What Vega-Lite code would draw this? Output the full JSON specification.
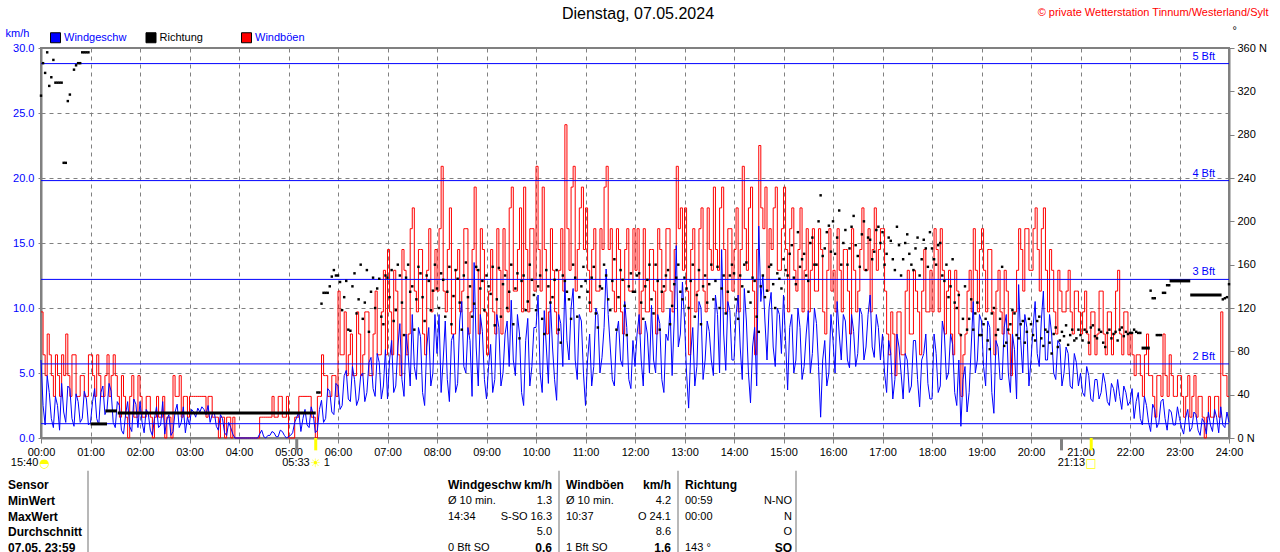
{
  "$schema": "https://vega.github.io/schema/vega-lite/v6.json",
  "autosize": {"type": "none"},
  "width": 1188,
  "height": 390,
  "padding": {"left": 41, "top": 48, "right": 51, "bottom": 114},
  "background": "white",
  "title": {"text": "Dienstag, 07.05.2024", "fontSize": 16, "fontWeight": "normal", "color": "black", "anchor": "middle", "frame": "group", "offset": -16, "dx": 3},
  "config": {
    "font": "Liberation Sans",
    "view": {"stroke": "#808080", "strokeWidth": 2},
    "axis": {"labelFont": "Liberation Sans", "labelFontSize": 11, "titleFont": "Liberation Sans", "domainColor": "#808080", "domainWidth": 2, "tickColor": "#808080", "gridColor": "#808080", "gridDash": [4, 4], "gridWidth": 1, "gridOpacity": 1}
  },
  "datasets": {
    "w": [
      {"t":0,"s":6.0,"g":9.7,"d":316},{"t":5,"s":1.0,"g":4.8,"d":337},{"t":10,"s":3.5,"g":6.4,"d":325},{"t":15,"s":0.8,"g":3.2,"d":349},{"t":20,"s":2.5,"g":4.8,"d":328},{"t":25,"s":4.2,"g":6.4,"d":328},{"t":30,"s":1.2,"g":8.0,"d":254},{"t":35,"s":3.8,"g":3.2,"d":317},{"t":40,"s":0.9,"g":6.4,"d":340},{"t":45,"s":2.8,"g":3.2,"d":346},{"t":50,"s":1.5,"g":4.8,"d":356},{"t":55,"s":3.0,"g":3.2,"d":356},
      {"t":60,"s":1.2,"g":6.4},{"t":65,"s":3.8,"g":3.2},{"t":70,"s":1.0,"g":4.8},{"t":75,"s":4.0,"g":3.2},{"t":80,"s":2.2,"g":6.4},{"t":85,"s":3.6,"g":4.8},{"t":90,"s":0.8,"g":4.8},{"t":95,"s":2.5,"g":1.6},{"t":100,"s":0.3,"g":3.2},{"t":105,"s":2.8,"g":0},{"t":110,"s":0.5,"g":4.8},{"t":115,"s":2.6,"g":1.6},
      {"t":120,"s":2.8,"g":3.2},{"t":125,"s":0.4,"g":1.6},{"t":130,"s":1.9,"g":3.2},{"t":135,"s":0.2,"g":0},{"t":140,"s":2.4,"g":3.2},{"t":145,"s":1.0,"g":1.6},{"t":150,"s":0.3,"g":0},{"t":155,"s":1.8,"g":1.6},{"t":160,"s":0.5,"g":4.8},{"t":165,"s":2.6,"g":3.2},{"t":170,"s":1.2,"g":1.6},{"t":175,"s":0.4,"g":3.2},
      {"t":180,"s":1.0,"g":3.2},{"t":185,"s":2.0,"g":3.2},{"t":190,"s":2.3,"g":3.2},{"t":195,"s":2.4,"g":3.2},{"t":200,"s":1.8,"g":1.6},{"t":205,"s":1.2,"g":3.2},{"t":210,"s":2.0,"g":1.6},{"t":215,"s":0.6,"g":0},{"t":220,"s":1.5,"g":1.6},{"t":225,"s":0.2,"g":1.6},{"t":230,"s":0.8,"g":0},{"t":235,"s":0,"g":0},
      {"t":240,"s":0,"g":0},{"t":245,"s":0,"g":0},{"t":250,"s":0,"g":0},{"t":255,"s":0,"g":0},{"t":260,"s":0,"g":0},{"t":265,"s":0.3,"g":1.6},{"t":270,"s":0.1,"g":1.6},{"t":275,"s":0.2,"g":1.6},{"t":280,"s":0.5,"g":3.2},{"t":285,"s":0.1,"g":1.6},{"t":290,"s":0.6,"g":3.2},{"t":295,"s":0.2,"g":1.6},
      {"t":300,"s":0.1,"g":0},{"t":305,"s":0.4,"g":0},{"t":310,"s":1.6,"g":1.6},{"t":315,"s":0.5,"g":3.2},{"t":320,"s":2.2,"g":3.2},{"t":325,"s":0.8,"g":3.2},{"t":330,"s":1.8,"g":1.6},{"t":335,"s":0.6,"g":3.2,"d":42},{"t":340,"s":2.9,"g":6.4,"d":124},{"t":345,"s":1.5,"g":4.8,"d":134},{"t":350,"s":3.6,"g":3.2,"d":140},{"t":355,"s":1.8,"g":4.8,"d":155},
      {"t":360,"s":4.0,"g":11.3,"d":150},{"t":365,"s":2.5,"g":6.4,"d":118},{"t":370,"s":5.2,"g":4.8,"d":145},{"t":375,"s":2.8,"g":8.0,"d":99},{"t":380,"s":4.5,"g":4.8,"d":152},{"t":385,"s":3.0,"g":8.0,"d":128},{"t":390,"s":5.0,"g":6.4,"d":110},{"t":395,"s":3.5,"g":9.7,"d":155},{"t":400,"s":6.2,"g":4.8,"d":135},{"t":405,"s":3.2,"g":11.3,"d":120},{"t":410,"s":5.8,"g":6.4,"d":147},{"t":415,"s":4.0,"g":12.9,"d":105},
      {"t":420,"s":3.0,"g":14.5,"d":148},{"t":425,"s":7.5,"g":6.4,"d":155},{"t":430,"s":4.0,"g":11.3,"d":118},{"t":435,"s":8.8,"g":4.8,"d":150},{"t":440,"s":3.2,"g":12.9,"d":95},{"t":445,"s":6.5,"g":8.0,"d":160},{"t":450,"s":9.5,"g":17.7,"d":140},{"t":455,"s":4.5,"g":9.7,"d":128},{"t":460,"s":7.8,"g":14.5,"d":152},{"t":465,"s":2.5,"g":6.4,"d":108},{"t":470,"s":8.5,"g":16.1,"d":145},{"t":475,"s":5.0,"g":11.3,"d":136},
      {"t":480,"s":6.5,"g":11.3,"d":138},{"t":485,"s":3.5,"g":20.9,"d":152},{"t":490,"s":9.0,"g":9.7,"d":112},{"t":495,"s":2.8,"g":17.7,"d":158},{"t":500,"s":8.0,"g":8.0,"d":131},{"t":505,"s":4.2,"g":14.5,"d":147},{"t":510,"s":10.5,"g":11.3,"d":100},{"t":515,"s":5.0,"g":16.1,"d":162},{"t":520,"s":7.5,"g":9.7,"d":140},{"t":525,"s":13.5,"g":19.3,"d":124},{"t":530,"s":4.0,"g":8.0,"d":155},{"t":535,"s":8.2,"g":14.5,"d":145},
      {"t":540,"s":3.0,"g":6.4,"d":150},{"t":545,"s":7.2,"g":14.5,"d":133},{"t":550,"s":4.5,"g":8.0,"d":104},{"t":555,"s":8.5,"g":12.9,"d":157},{"t":560,"s":5.0,"g":16.1,"d":142},{"t":565,"s":9.0,"g":9.7,"d":120},{"t":570,"s":10.6,"g":19.3,"d":160},{"t":575,"s":4.8,"g":11.3,"d":138},{"t":580,"s":8.0,"g":17.7,"d":92},{"t":585,"s":2.5,"g":19.3,"d":150},{"t":590,"s":9.2,"g":9.7,"d":126},{"t":595,"s":5.5,"g":16.1,"d":146},
      {"t":600,"s":8.5,"g":20.9,"d":118},{"t":605,"s":5.0,"g":11.3,"d":150},{"t":610,"s":9.8,"g":14.5,"d":96},{"t":615,"s":4.2,"g":9.7,"d":140},{"t":620,"s":7.0,"g":12.9,"d":130},{"t":625,"s":2.9,"g":8.0,"d":155},{"t":630,"s":8.8,"g":16.1,"d":88},{"t":635,"s":12.0,"g":24.1,"d":145},{"t":640,"s":6.0,"g":12.9,"d":128},{"t":645,"s":11.5,"g":20.9,"d":160},{"t":650,"s":4.5,"g":14.5,"d":112},{"t":655,"s":9.0,"g":19.3,"d":140},
      {"t":660,"s":2.5,"g":17.7,"d":145},{"t":665,"s":8.0,"g":9.7,"d":125},{"t":670,"s":5.5,"g":16.1,"d":158},{"t":675,"s":9.5,"g":11.3,"d":102},{"t":680,"s":6.2,"g":14.5,"d":138},{"t":685,"s":13.0,"g":20.9,"d":150},{"t":690,"s":7.0,"g":16.1,"d":118},{"t":695,"s":4.0,"g":9.7,"d":165},{"t":700,"s":9.0,"g":14.5,"d":130},{"t":705,"s":5.5,"g":8.0,"d":146},{"t":710,"s":8.5,"g":16.1,"d":95},{"t":715,"s":3.8,"g":11.3,"d":152},
      {"t":720,"s":5.5,"g":12.9,"d":135},{"t":725,"s":9.5,"g":8.0,"d":152},{"t":730,"s":4.0,"g":16.1,"d":110},{"t":735,"s":8.0,"g":9.7,"d":146},{"t":740,"s":10.2,"g":14.5,"d":128},{"t":745,"s":5.0,"g":8.0,"d":160},{"t":750,"s":8.8,"g":14.5,"d":100},{"t":755,"s":3.5,"g":11.3,"d":140},{"t":760,"s":7.5,"g":16.1,"d":155},{"t":765,"s":4.8,"g":9.7,"d":122},{"t":770,"s":14.8,"g":20.9,"d":148},{"t":775,"s":8.0,"g":17.7,"d":135},
      {"t":780,"s":9.0,"g":17.7,"d":148},{"t":785,"s":2.3,"g":6.4,"d":120},{"t":790,"s":8.5,"g":16.1,"d":160},{"t":795,"s":5.5,"g":11.3,"d":132},{"t":800,"s":10.0,"g":17.7,"d":105},{"t":805,"s":6.0,"g":9.7,"d":150},{"t":810,"s":8.2,"g":14.5,"d":142},{"t":815,"s":4.8,"g":19.3,"d":128},{"t":820,"s":9.5,"g":12.9,"d":158},{"t":825,"s":14.5,"g":19.3,"d":138},{"t":830,"s":5.2,"g":9.7,"d":115},{"t":835,"s":9.8,"g":16.1,"d":150},
      {"t":840,"s":6.0,"g":14.5,"d":152},{"t":845,"s":11.0,"g":9.7,"d":110},{"t":850,"s":4.5,"g":20.9,"d":140},{"t":855,"s":9.0,"g":12.9,"d":162},{"t":860,"s":2.7,"g":19.3,"d":125},{"t":865,"s":8.5,"g":6.4,"d":145},{"t":870,"s":16.3,"g":22.5,"d":98},{"t":875,"s":12.5,"g":16.1,"d":150},{"t":880,"s":6.0,"g":11.3,"d":136},{"t":885,"s":11.2,"g":14.5,"d":160},{"t":890,"s":5.5,"g":19.3,"d":120},{"t":895,"s":9.5,"g":12.9,"d":147},
      {"t":900,"s":11.0,"g":19.3,"d":165},{"t":905,"s":3.7,"g":9.7,"d":150},{"t":910,"s":9.5,"g":17.7,"d":178},{"t":915,"s":6.0,"g":11.3,"d":142},{"t":920,"s":8.5,"g":17.7,"d":158},{"t":925,"s":5.5,"g":12.9,"d":170},{"t":930,"s":9.8,"g":9.7,"d":145},{"t":935,"s":6.5,"g":16.1,"d":185},{"t":940,"s":8.8,"g":11.3,"d":160},{"t":945,"s":1.6,"g":14.5,"d":224},{"t":950,"s":7.5,"g":8.0,"d":175},{"t":955,"s":5.0,"g":16.1,"d":196},
      {"t":960,"s":7.5,"g":12.9,"d":200},{"t":965,"s":10.5,"g":16.1,"d":185},{"t":970,"s":6.0,"g":9.7,"d":160},{"t":975,"s":9.0,"g":14.5,"d":192},{"t":980,"s":5.4,"g":8.0,"d":175},{"t":985,"s":8.2,"g":12.9,"d":205},{"t":990,"s":6.5,"g":11.3,"d":168},{"t":995,"s":9.5,"g":17.7,"d":188},{"t":1000,"s":7.0,"g":12.9,"d":155},{"t":1005,"s":11.0,"g":9.7,"d":183},{"t":1010,"s":6.2,"g":17.7,"d":172},{"t":1015,"s":8.5,"g":14.5,"d":195},
      {"t":1020,"s":8.0,"g":16.1,"d":190},{"t":1025,"s":3.5,"g":8.0,"d":170},{"t":1030,"s":6.5,"g":9.7,"d":182},{"t":1035,"s":4.5,"g":4.8,"d":155},{"t":1040,"s":7.0,"g":9.7,"d":178},{"t":1045,"s":3.0,"g":6.4,"d":165},{"t":1050,"s":6.0,"g":12.9,"d":188},{"t":1055,"s":4.0,"g":8.0,"d":160},{"t":1060,"s":7.5,"g":11.3,"d":175},{"t":1065,"s":2.4,"g":6.4,"d":150},{"t":1070,"s":6.5,"g":14.5,"d":183},{"t":1075,"s":4.2,"g":9.7,"d":158},
      {"t":1080,"s":3.0,"g":9.7,"d":175},{"t":1085,"s":6.5,"g":14.5,"d":160},{"t":1090,"s":4.0,"g":16.1,"d":180},{"t":1095,"s":8.0,"g":8.0,"d":145},{"t":1100,"s":5.0,"g":12.9,"d":130},{"t":1105,"s":7.2,"g":6.4,"d":165},{"t":1110,"s":2.5,"g":11.3,"d":120},{"t":1115,"s":0.9,"g":3.2,"d":95},{"t":1120,"s":5.5,"g":8.0,"d":140},{"t":1125,"s":3.5,"g":12.9,"d":110},{"t":1130,"s":10.5,"g":16.1,"d":100},{"t":1135,"s":6.0,"g":9.7,"d":125},
      {"t":1140,"s":9.0,"g":16.1,"d":95},{"t":1145,"s":4.0,"g":9.7,"d":110},{"t":1150,"s":8.5,"g":14.5,"d":82},{"t":1155,"s":1.9,"g":6.4,"d":120},{"t":1160,"s":7.0,"g":12.9,"d":100},{"t":1165,"s":4.5,"g":8.0,"d":158},{"t":1170,"s":9.5,"g":11.3,"d":88},{"t":1175,"s":3.5,"g":4.8,"d":105},{"t":1180,"s":6.8,"g":9.7,"d":115},{"t":1185,"s":11.8,"g":16.1,"d":92},{"t":1190,"s":5.0,"g":11.3,"d":108},{"t":1195,"s":8.5,"g":16.1,"d":98},
      {"t":1200,"s":6.0,"g":12.9,"d":105},{"t":1205,"s":10.5,"g":17.7,"d":90},{"t":1210,"s":5.5,"g":11.3,"d":112},{"t":1215,"s":11.3,"g":17.7,"d":85},{"t":1220,"s":6.0,"g":9.7,"d":98},{"t":1225,"s":8.0,"g":12.9,"d":78},{"t":1230,"s":4.5,"g":8.0,"d":102},{"t":1235,"s":7.2,"g":11.3,"d":90},{"t":1240,"s":5.0,"g":9.7,"d":94},{"t":1245,"s":6.5,"g":12.9,"d":86},{"t":1250,"s":3.8,"g":8.0,"d":100},{"t":1255,"s":5.8,"g":11.3,"d":92},
      {"t":1260,"s":5.0,"g":8.0,"d":95},{"t":1265,"s":3.2,"g":11.3,"d":100},{"t":1270,"s":4.8,"g":6.4,"d":88},{"t":1275,"s":2.8,"g":9.7,"d":104},{"t":1280,"s":4.5,"g":8.0,"d":92},{"t":1285,"s":3.5,"g":11.3,"d":98},{"t":1290,"s":4.2,"g":6.4,"d":84},{"t":1295,"s":2.5,"g":9.7,"d":100},{"t":1300,"s":3.8,"g":8.0,"d":96},{"t":1305,"s":4.5,"g":12.9,"d":90},{"t":1310,"s":2.2,"g":6.4,"d":102},{"t":1315,"s":3.5,"g":9.7,"d":98},
      {"t":1320,"s":2.8,"g":8.0,"d":97},{"t":1325,"s":1.5,"g":4.8,"d":100},{"t":1330,"s":3.5,"g":6.4,"d":97},{"t":1335,"s":1.0,"g":3.2},{"t":1340,"s":2.5,"g":8.0},{"t":1345,"s":0.5,"g":4.8,"d":136},{"t":1350,"s":2.2,"g":1.6,"d":129},{"t":1355,"s":1.2,"g":4.8,"d":95},{"t":1360,"s":3.0,"g":8.0,"d":134},{"t":1365,"s":0.6,"g":3.2,"d":141},{"t":1370,"s":2.0,"g":4.8},{"t":1375,"s":1.0,"g":3.2},
      {"t":1380,"s":1.5,"g":4.8},{"t":1385,"s":0.3,"g":1.6},{"t":1390,"s":2.2,"g":4.8},{"t":1395,"s":0.8,"g":3.2},{"t":1400,"s":1.8,"g":1.6},{"t":1405,"s":0.2,"g":3.2},{"t":1410,"s":1.2,"g":0},{"t":1415,"s":2.0,"g":3.2},{"t":1420,"s":0.5,"g":1.6},{"t":1425,"s":1.6,"g":3.2},{"t":1430,"s":2.4,"g":9.7},{"t":1435,"s":0.8,"g":4.8,"d":129},{"t":1440,"s":1.2,"g":3.2,"d":142},
      {"t":2.5,"s":2.5,"g":6.4,"d":346},{"t":7.5,"s":4.8,"g":8.0,"d":356},{"t":12.5,"s":1.5,"g":4.8,"d":333},{"t":17.5,"s":3.2,"g":6.4,"d":328},{"t":22.5,"s":0.6,"g":3.2,"d":328},{"t":27.5,"s":2.0,"g":4.8,"d":254},{"t":32.5,"s":4.0,"g":4.8,"d":311},{"t":37.5,"s":1.5,"g":6.4},{"t":42.5,"s":3.4,"g":3.2,"d":344},{"t":47.5,"s":1.2,"g":4.8,"d":346},{"t":52.5,"s":3.6,"g":3.2,"d":356},{"t":57.5,"s":1.0,"g":6.4,"d":356},
      {"t":62.5,"s":2.8,"g":4.8},{"t":67.5,"s":1.5,"g":6.4},{"t":72.5,"s":3.5,"g":3.2},{"t":77.5,"s":1.8,"g":4.8},{"t":82.5,"s":4.2,"g":3.2},{"t":87.5,"s":1.2,"g":6.4},{"t":92.5,"s":2.8,"g":3.2},{"t":97.5,"s":0.6,"g":4.8},{"t":102.5,"s":1.8,"g":1.6},{"t":107.5,"s":0.9,"g":3.2},{"t":112.5,"s":3.0,"g":1.6},{"t":117.5,"s":0.8,"g":4.8},
      {"t":122.5,"s":1.2,"g":1.6},{"t":127.5,"s":2.2,"g":3.2},{"t":132.5,"s":0.6,"g":1.6},{"t":137.5,"s":1.5,"g":1.6},{"t":142.5,"s":0.8,"g":1.6},{"t":147.5,"s":2.8,"g":3.2},{"t":152.5,"s":1.4,"g":1.6},{"t":157.5,"s":0.2,"g":0},{"t":162.5,"s":2.0,"g":3.2},{"t":167.5,"s":0.8,"g":4.8},{"t":172.5,"s":2.4,"g":3.2},{"t":177.5,"s":1.6,"g":1.6},
      {"t":182.5,"s":2.2,"g":3.2},{"t":187.5,"s":1.6,"g":3.2},{"t":192.5,"s":2.0,"g":3.2},{"t":197.5,"s":2.2,"g":3.2},{"t":202.5,"s":2.5,"g":3.2},{"t":207.5,"s":1.8,"g":1.6},{"t":212.5,"s":0.9,"g":1.6},{"t":217.5,"s":1.8,"g":1.6},{"t":222.5,"s":0.4,"g":0},{"t":227.5,"s":1.2,"g":1.6},{"t":232.5,"s":0.3,"g":1.6},{"t":237.5,"s":0,"g":0},
      {"t":242.5,"s":0,"g":0},{"t":247.5,"s":0,"g":0},{"t":252.5,"s":0,"g":0},{"t":257.5,"s":0,"g":0},{"t":262.5,"s":0,"g":0},{"t":267.5,"s":0.6,"g":1.6},{"t":272.5,"s":0,"g":1.6},{"t":277.5,"s":0.2,"g":1.6},{"t":282.5,"s":0.4,"g":1.6},{"t":287.5,"s":0.1,"g":3.2},{"t":292.5,"s":0.5,"g":1.6},{"t":297.5,"s":0,"g":3.2},
      {"t":302.5,"s":0.2,"g":0},{"t":307.5,"s":1.2,"g":1.6},{"t":312.5,"s":2.0,"g":3.2},{"t":317.5,"s":1.5,"g":3.2},{"t":322.5,"s":1.0,"g":3.2},{"t":327.5,"s":2.4,"g":1.6},{"t":332.5,"s":0.4,"g":0},{"t":337.5,"s":2.2,"g":3.2,"d":42},{"t":342.5,"s":1.2,"g":4.8,"d":134},{"t":347.5,"s":3.8,"g":3.2,"d":134},{"t":352.5,"s":2.0,"g":4.8,"d":149},{"t":357.5,"s":4.2,"g":3.2,"d":150},
      {"t":362.5,"s":2.2,"g":6.4,"d":144},{"t":367.5,"s":4.8,"g":9.7,"d":130},{"t":372.5,"s":3.0,"g":6.4,"d":100},{"t":377.5,"s":5.5,"g":4.8,"d":140},{"t":382.5,"s":2.5,"g":9.7,"d":115},{"t":387.5,"s":4.8,"g":4.8,"d":160},{"t":392.5,"s":2.8,"g":9.7,"d":125},{"t":397.5,"s":5.8,"g":4.8,"d":98},{"t":402.5,"s":3.8,"g":8.0,"d":148},{"t":407.5,"s":6.5,"g":6.4,"d":138},{"t":412.5,"s":3.0,"g":9.7,"d":112},{"t":417.5,"s":6.8,"g":6.4,"d":150},
      {"t":422.5,"s":6.0,"g":9.7,"d":130},{"t":427.5,"s":3.5,"g":12.9,"d":108},{"t":432.5,"s":7.0,"g":6.4,"d":160},{"t":437.5,"s":4.5,"g":14.5,"d":125},{"t":442.5,"s":8.0,"g":6.4,"d":148},{"t":447.5,"s":4.0,"g":16.1,"d":135},{"t":452.5,"s":5.5,"g":11.3,"d":100},{"t":457.5,"s":8.5,"g":14.5,"d":158},{"t":462.5,"s":3.5,"g":8.0,"d":130},{"t":467.5,"s":7.0,"g":12.9,"d":150},{"t":472.5,"s":4.0,"g":9.7,"d":118},{"t":477.5,"s":9.5,"g":14.5,"d":160},
      {"t":482.5,"s":9.5,"g":16.1,"d":120},{"t":487.5,"s":6.0,"g":11.3,"d":146},{"t":492.5,"s":4.5,"g":14.5,"d":135},{"t":497.5,"s":7.5,"g":8.0,"d":105},{"t":502.5,"s":3.5,"g":12.9,"d":155},{"t":507.5,"s":9.0,"g":9.7,"d":125},{"t":512.5,"s":5.5,"g":16.1,"d":150},{"t":517.5,"s":8.5,"g":8.0,"d":130},{"t":522.5,"s":3.2,"g":14.5,"d":112},{"t":527.5,"s":7.0,"g":12.9,"d":158},{"t":532.5,"s":9.5,"g":16.1,"d":138},{"t":537.5,"s":4.5,"g":9.7,"d":118},
      {"t":542.5,"s":5.5,"g":11.3,"d":140},{"t":547.5,"s":3.5,"g":9.7,"d":158},{"t":552.5,"s":9.5,"g":16.1,"d":128},{"t":557.5,"s":4.0,"g":8.0,"d":112},{"t":562.5,"s":8.0,"g":12.9,"d":150},{"t":567.5,"s":5.5,"g":17.7,"d":135},{"t":572.5,"s":6.0,"g":11.3,"d":105},{"t":577.5,"s":9.5,"g":14.5,"d":152},{"t":582.5,"s":3.5,"g":9.7,"d":145},{"t":587.5,"s":7.5,"g":14.5,"d":118},{"t":592.5,"s":4.0,"g":16.1,"d":160},{"t":597.5,"s":8.5,"g":11.3,"d":132},
      {"t":602.5,"s":11.0,"g":14.5,"d":140},{"t":607.5,"s":3.5,"g":19.3,"d":110},{"t":612.5,"s":7.0,"g":8.0,"d":155},{"t":617.5,"s":10.5,"g":16.1,"d":125},{"t":622.5,"s":4.5,"g":9.7,"d":146},{"t":627.5,"s":9.5,"g":12.9,"d":100},{"t":632.5,"s":5.5,"g":11.3,"d":150},{"t":637.5,"s":7.5,"g":16.1,"d":135},{"t":642.5,"s":10.0,"g":19.3,"d":110},{"t":647.5,"s":6.0,"g":11.3,"d":148},{"t":652.5,"s":9.5,"g":17.7,"d":130},{"t":657.5,"s":5.0,"g":14.5,"d":158},
      {"t":662.5,"s":6.0,"g":12.9,"d":135},{"t":667.5,"s":4.0,"g":14.5,"d":148},{"t":672.5,"s":10.0,"g":11.3,"d":115},{"t":677.5,"s":5.0,"g":16.1,"d":140},{"t":682.5,"s":8.5,"g":19.3,"d":160},{"t":687.5,"s":9.5,"g":14.5,"d":128},{"t":692.5,"s":4.5,"g":11.3,"d":145},{"t":697.5,"s":8.0,"g":16.1,"d":100},{"t":702.5,"s":6.0,"g":9.7,"d":155},{"t":707.5,"s":10.5,"g":14.5,"d":122},{"t":712.5,"s":4.5,"g":11.3,"d":140},{"t":717.5,"s":7.5,"g":16.1,"d":135},
      {"t":722.5,"s":8.0,"g":16.1,"d":150},{"t":727.5,"s":6.0,"g":11.3,"d":125},{"t":732.5,"s":9.0,"g":9.7,"d":140},{"t":737.5,"s":5.0,"g":14.5,"d":160},{"t":742.5,"s":6.0,"g":11.3,"d":115},{"t":747.5,"s":9.5,"g":16.1,"d":145},{"t":752.5,"s":4.5,"g":9.7,"d":135},{"t":757.5,"s":8.0,"g":16.1,"d":150},{"t":762.5,"s":10.0,"g":11.3,"d":105},{"t":767.5,"s":9.0,"g":14.5,"d":142},{"t":772.5,"s":7.0,"g":16.1,"d":160},{"t":777.5,"s":12.0,"g":12.9,"d":128},
      {"t":782.5,"s":5.0,"g":11.3,"d":138},{"t":787.5,"s":6.5,"g":14.5,"d":145},{"t":792.5,"s":4.0,"g":9.7,"d":112},{"t":797.5,"s":10.5,"g":16.1,"d":155},{"t":802.5,"s":4.5,"g":11.3,"d":140},{"t":807.5,"s":9.0,"g":17.7,"d":125},{"t":812.5,"s":6.0,"g":12.9,"d":160},{"t":817.5,"s":11.0,"g":14.5,"d":145},{"t":822.5,"s":5.0,"g":17.7,"d":120},{"t":827.5,"s":8.0,"g":14.5,"d":150},{"t":832.5,"s":10.5,"g":16.1,"d":135},{"t":837.5,"s":6.0,"g":11.3,"d":160},
      {"t":842.5,"s":9.5,"g":17.7,"d":128},{"t":847.5,"s":7.0,"g":14.5,"d":150},{"t":852.5,"s":11.5,"g":16.1,"d":160},{"t":857.5,"s":5.0,"g":17.7,"d":135},{"t":862.5,"s":7.0,"g":11.3,"d":148},{"t":867.5,"s":4.0,"g":14.5,"d":112},{"t":872.5,"s":10.5,"g":17.7,"d":140},{"t":877.5,"s":9.0,"g":19.3,"d":130},{"t":882.5,"s":10.0,"g":16.1,"d":158},{"t":887.5,"s":7.0,"g":17.7,"d":142},{"t":892.5,"s":10.0,"g":12.9,"d":152},{"t":897.5,"s":6.5,"g":16.1,"d":138},
      {"t":902.5,"s":7.5,"g":14.5,"d":155},{"t":907.5,"s":8.5,"g":16.1,"d":170},{"t":912.5,"s":5.0,"g":12.9,"d":148},{"t":917.5,"s":10.0,"g":14.5,"d":190},{"t":922.5,"s":4.5,"g":9.7,"d":165},{"t":927.5,"s":8.0,"g":16.1,"d":150},{"t":932.5,"s":5.0,"g":12.9,"d":180},{"t":937.5,"s":10.0,"g":11.3,"d":160},{"t":942.5,"s":5.5,"g":16.1,"d":200},{"t":947.5,"s":6.0,"g":9.7,"d":168},{"t":952.5,"s":4.0,"g":12.9,"d":190},{"t":957.5,"s":9.5,"g":11.3,"d":172},
      {"t":962.5,"s":5.0,"g":9.7,"d":170},{"t":967.5,"s":8.0,"g":12.9,"d":210},{"t":972.5,"s":9.5,"g":14.5,"d":180},{"t":977.5,"s":6.0,"g":11.3,"d":160},{"t":982.5,"s":9.5,"g":16.1,"d":195},{"t":987.5,"s":5.5,"g":9.7,"d":178},{"t":992.5,"s":10.0,"g":14.5,"d":158},{"t":997.5,"s":6.0,"g":12.9,"d":200},{"t":1002.5,"s":9.5,"g":16.1,"d":185},{"t":1007.5,"s":7.0,"g":14.5,"d":165},{"t":1012.5,"s":9.5,"g":12.9,"d":192},{"t":1017.5,"s":6.0,"g":16.1,"d":180},
      {"t":1022.5,"s":5.0,"g":11.3,"d":160},{"t":1027.5,"s":7.5,"g":6.4,"d":185},{"t":1032.5,"s":3.0,"g":8.0,"d":165},{"t":1037.5,"s":8.0,"g":9.7,"d":195},{"t":1042.5,"s":5.0,"g":6.4,"d":150},{"t":1047.5,"s":6.5,"g":11.3,"d":180},{"t":1052.5,"s":3.5,"g":8.0,"d":170},{"t":1057.5,"s":7.5,"g":12.9,"d":155},{"t":1062.5,"s":4.5,"g":9.7,"d":185},{"t":1067.5,"s":6.0,"g":11.3,"d":165},{"t":1072.5,"s":8.0,"g":9.7,"d":175},{"t":1077.5,"s":3.0,"g":12.9,"d":190},
      {"t":1082.5,"s":8.0,"g":16.1,"d":165},{"t":1087.5,"s":3.5,"g":9.7,"d":178},{"t":1092.5,"s":9.0,"g":12.9,"d":150},{"t":1097.5,"s":4.5,"g":11.3,"d":160},{"t":1102.5,"s":8.0,"g":8.0,"d":140},{"t":1107.5,"s":3.5,"g":12.9,"d":125},{"t":1112.5,"s":6.0,"g":8.0,"d":132},{"t":1117.5,"s":4.5,"g":6.4,"d":110},{"t":1122.5,"s":2.0,"g":11.3,"d":100},{"t":1127.5,"s":7.0,"g":9.7,"d":128},{"t":1132.5,"s":5.0,"g":12.9,"d":115},{"t":1137.5,"s":9.5,"g":14.5,"d":95},
      {"t":1142.5,"s":5.5,"g":12.9,"d":105},{"t":1147.5,"s":9.0,"g":14.5,"d":90},{"t":1152.5,"s":3.5,"g":9.7,"d":115},{"t":1157.5,"s":7.5,"g":11.3,"d":95},{"t":1162.5,"s":4.5,"g":9.7,"d":110},{"t":1167.5,"s":8.5,"g":12.9,"d":85},{"t":1172.5,"s":5.0,"g":8.0,"d":100},{"t":1177.5,"s":8.0,"g":9.7,"d":118},{"t":1182.5,"s":3.0,"g":12.9,"d":95},{"t":1187.5,"s":7.5,"g":14.5,"d":105},{"t":1192.5,"s":9.5,"g":16.1,"d":88},{"t":1197.5,"s":4.0,"g":12.9,"d":110},
      {"t":1202.5,"s":8.5,"g":16.1,"d":95},{"t":1207.5,"s":6.5,"g":14.5,"d":108},{"t":1212.5,"s":9.0,"g":16.1,"d":92},{"t":1217.5,"s":6.0,"g":12.9,"d":100},{"t":1222.5,"s":9.5,"g":14.5,"d":88},{"t":1227.5,"s":5.0,"g":9.7,"d":96},{"t":1232.5,"s":7.5,"g":12.9,"d":84},{"t":1237.5,"s":4.0,"g":9.7,"d":98},{"t":1242.5,"s":7.0,"g":11.3,"d":104},{"t":1247.5,"s":4.0,"g":9.7,"d":95},{"t":1252.5,"s":6.5,"g":11.3,"d":90},{"t":1257.5,"s":4.0,"g":9.7,"d":100},
      {"t":1262.5,"s":3.5,"g":9.7,"d":90},{"t":1267.5,"s":5.5,"g":8.0,"d":98},{"t":1272.5,"s":3.0,"g":9.7,"d":102},{"t":1277.5,"s":4.5,"g":6.4,"d":94},{"t":1282.5,"s":3.0,"g":11.3,"d":100},{"t":1287.5,"s":5.0,"g":8.0,"d":88},{"t":1292.5,"s":2.8,"g":9.7,"d":97},{"t":1297.5,"s":4.2,"g":6.4,"d":92},{"t":1302.5,"s":2.8,"g":11.3,"d":98},{"t":1307.5,"s":3.2,"g":8.0,"d":100},{"t":1312.5,"s":4.0,"g":9.7,"d":94},{"t":1317.5,"s":2.5,"g":6.4,"d":96},
      {"t":1322.5,"s":3.8,"g":6.4,"d":97},{"t":1327.5,"s":2.8,"g":6.4,"d":98},{"t":1332.5,"s":1.5,"g":4.8,"d":97},{"t":1337.5,"s":3.2,"g":6.4},{"t":1342.5,"s":1.2,"g":4.8},{"t":1347.5,"s":2.6,"g":3.2,"d":129},{"t":1352.5,"s":0.8,"g":4.8,"d":95},{"t":1357.5,"s":2.8,"g":3.2,"d":95},{"t":1362.5,"s":1.5,"g":4.8,"d":134},{"t":1367.5,"s":2.2,"g":6.4,"d":141},{"t":1372.5,"s":1.0,"g":3.2},{"t":1377.5,"s":2.4,"g":4.8},
      {"t":1382.5,"s":0.8,"g":3.2},{"t":1387.5,"s":1.6,"g":3.2},{"t":1392.5,"s":0.5,"g":1.6},{"t":1397.5,"s":2.0,"g":4.8},{"t":1402.5,"s":0.6,"g":3.2},{"t":1407.5,"s":1.5,"g":1.6},{"t":1412.5,"s":0.3,"g":1.6},{"t":1417.5,"s":1.0,"g":1.6},{"t":1422.5,"s":2.2,"g":3.2},{"t":1427.5,"s":0.4,"g":1.6},{"t":1432.5,"s":1.0,"g":4.8,"d":128},{"t":1437.5,"s":2.0,"g":3.2,"d":130}
    ],
    "runs": [
      {"t":60,"t2":80,"d":13},{"t":78,"t2":92,"d":25},{"t":93,"t2":333,"d":23},{"t":1334,"t2":1344,"d":83},{"t":1368,"t2":1393,"d":145},{"t":1393,"t2":1431,"d":132}
    ],
    "bft": [
      {"v":1.1,"lab":""},{"v":5.7,"lab":"2 Bft"},{"v":12.2,"lab":"3 Bft"},{"v":19.8,"lab":"4 Bft"},{"v":28.8,"lab":"5 Bft"}
    ],
    "marks": [
      {"t":310,"k":"moon"},{"t":1237,"k":"moon"},{"t":333,"k":"sun"},{"t":1273,"k":"sun"}
    ],
    "ann": [
      {"t":4,"lab":"15:40","ic":"◓","n":""},{"t":333,"lab":"05:33","ic":"☀","n":"1"},{"t":1273,"lab":"21:13","ic":"□","n":""}
    ],
    "tab": [
      {"r":0,"c":0,"txt":"Sensor"},{"r":0,"c":2,"txt":"Windgeschw"},{"r":0,"c":3,"txt":"km/h"},{"r":0,"c":5,"txt":"Windböen"},{"r":0,"c":6,"txt":"km/h"},{"r":0,"c":8,"txt":"Richtung"},
      {"r":1,"c":0,"txt":"MinWert"},{"r":1,"c":2,"txt":"Ø 10 min."},{"r":1,"c":3,"txt":"1.3"},{"r":1,"c":5,"txt":"Ø 10 min."},{"r":1,"c":6,"txt":"4.2"},{"r":1,"c":8,"txt":"  00:59"},{"r":1,"c":9,"txt":"N-NO"},
      {"r":2,"c":0,"txt":"MaxWert"},{"r":2,"c":2,"txt":"  14:34"},{"r":2,"c":3,"txt":"S-SO 16.3"},{"r":2,"c":5,"txt":"  10:37"},{"r":2,"c":6,"txt":"O 24.1"},{"r":2,"c":8,"txt":"  00:00"},{"r":2,"c":9,"txt":"N"},
      {"r":3,"c":0,"txt":"Durchschnitt"},{"r":3,"c":3,"txt":"5.0"},{"r":3,"c":6,"txt":"8.6"},{"r":3,"c":9,"txt":"O"},
      {"r":4,"c":0,"txt":"07.05.  23:59"},{"r":4,"c":2,"txt":"  0 Bft SO"},{"r":4,"c":3,"txt":"0.6"},{"r":4,"c":5,"txt":"  1 Bft SO"},{"r":4,"c":6,"txt":"1.6"},{"r":4,"c":8,"txt":" 143 °"},{"r":4,"c":9,"txt":"SO"}
    ]
  },
  "layer": [
    {
      "layer": [
        {
          "layer": [
            {
              "data": {"name": "w"},
              "mark": {"type": "line", "color": "#ff0000", "strokeWidth": 1, "interpolate": "step-after"},
              "encoding": {
                "x": {"field": "t", "type": "quantitative", "scale": {"domain": [0, 1440], "nice": false, "zero": false}},
                "y": {"field": "g", "type": "quantitative", "scale": {"domain": [0, 30], "nice": false}}
              }
            },
            {
              "data": {"name": "w"},
              "mark": {"type": "line", "color": "#0000ff", "strokeWidth": 1},
              "encoding": {
                "x": {
                  "field": "t", "type": "quantitative",
                  "scale": {"domain": [0, 1440], "nice": false, "zero": false},
                  "axis": {
                    "values": [0,60,120,180,240,300,360,420,480,540,600,660,720,780,840,900,960,1020,1080,1140,1200,1260,1320,1380,1440],
                    "labelExpr": "(datum.value < 600 ? '0' : '') + (datum.value / 60) + ':00'",
                    "grid": true, "labelColor": "black", "labelPadding": 3, "tickSize": 5,
                    "labelFlush": false, "labelOverlap": false,
                    "title": "© private Wetterstation Tinnum/Westerland/Sylt",
                    "titleX": 1227, "titleY": -426, "titleAlign": "right", "titleBaseline": "middle", "titleAngle": 0,
                    "titleColor": "#ff0000", "titleFontWeight": "normal", "titleFontSize": 11
                  }
                },
                "y": {
                  "field": "s", "type": "quantitative",
                  "scale": {"domain": [0, 30], "nice": false},
                  "axis": {
                    "values": [0, 5, 10, 15, 20, 25, 30], "format": ".1f",
                    "grid": true, "labelColor": "#0000ff", "tickSize": 3, "labelPadding": 4,
                    "title": "km/h", "titleAngle": 0, "titleX": -36, "titleY": -15, "titleAlign": "left", "titleBaseline": "middle",
                    "titleColor": "#0000ff", "titleFontWeight": "normal", "titleFontSize": 11
                  }
                }
              }
            },
            {
              "data": {"name": "bft"},
              "mark": {"type": "rule", "color": "#0000ff", "strokeWidth": 1},
              "encoding": {
                "y": {"field": "v", "type": "quantitative", "scale": {"domain": [0, 30], "nice": false}}
              }
            },
            {
              "data": {"name": "bft"},
              "transform": [{"filter": "datum.lab != ''"}],
              "mark": {"type": "text", "color": "#0000ff", "fontSize": 11, "align": "right", "baseline": "bottom", "dx": -14, "dy": -2},
              "encoding": {
                "x": {"datum": 1440, "type": "quantitative", "scale": {"domain": [0, 1440], "nice": false, "zero": false}},
                "y": {"field": "v", "type": "quantitative", "scale": {"domain": [0, 30], "nice": false}},
                "text": {"field": "lab"}
              }
            },
            {
              "data": {"name": "marks"},
              "mark": {"type": "rule", "strokeWidth": 3},
              "encoding": {
                "x": {"field": "t", "type": "quantitative", "scale": {"domain": [0, 1440], "nice": false, "zero": false}},
                "y": {"datum": 0, "type": "quantitative", "scale": {"domain": [0, 30], "nice": false}},
                "y2": {"datum": -0.95},
                "color": {"condition": {"test": "datum.k == 'sun'", "value": "#ffff00"}, "value": "#808080"}
              }
            },
            {
              "data": {"name": "ann"},
              "mark": {"type": "text", "color": "black", "fontSize": 11, "align": "right", "baseline": "middle", "dx": -6},
              "encoding": {
                "x": {"field": "t", "type": "quantitative", "scale": {"domain": [0, 1440], "nice": false, "zero": false}},
                "y": {"datum": -1.92, "type": "quantitative", "scale": {"domain": [0, 30], "nice": false}},
                "text": {"field": "lab"}
              }
            },
            {
              "data": {"name": "ann"},
              "mark": {"type": "text", "color": "#ffff00", "fontSize": 12, "align": "center", "baseline": "middle", "font": "DejaVu Sans"},
              "encoding": {
                "x": {"field": "t", "type": "quantitative", "scale": {"domain": [0, 1440], "nice": false, "zero": false}},
                "y": {"datum": -1.92, "type": "quantitative", "scale": {"domain": [0, 30], "nice": false}},
                "text": {"field": "ic"}
              }
            },
            {
              "data": {"name": "ann"},
              "mark": {"type": "text", "color": "black", "fontSize": 11, "align": "left", "baseline": "middle", "dx": 8},
              "encoding": {
                "x": {"field": "t", "type": "quantitative", "scale": {"domain": [0, 1440], "nice": false, "zero": false}},
                "y": {"datum": -1.92, "type": "quantitative", "scale": {"domain": [0, 30], "nice": false}},
                "text": {"field": "n"}
              }
            }
          ]
        },
        {
          "layer": [
            {
              "data": {"name": "runs"},
              "mark": {"type": "rule", "color": "black", "strokeWidth": 3},
              "encoding": {
                "x": {"field": "t", "type": "quantitative", "scale": {"domain": [0, 1440], "nice": false, "zero": false}},
                "x2": {"field": "t2"},
                "y": {"field": "d", "type": "quantitative", "scale": {"domain": [0, 360], "nice": false}}
              }
            },
            {
              "data": {"name": "w"},
              "transform": [{"filter": "isValid(datum.d)"}],
              "mark": {"type": "point", "shape": "square", "filled": true, "size": 6, "opacity": 1},
              "encoding": {
                "x": {"field": "t", "type": "quantitative", "scale": {"domain": [0, 1440], "nice": false, "zero": false}},
                "y": {
                  "field": "d", "type": "quantitative",
                  "scale": {"domain": [0, 360], "nice": false},
                  "axis": {
                    "orient": "right",
                    "values": [0,20,40,60,80,100,120,140,160,180,200,220,240,260,280,300,320,340,360],
                    "labelExpr": "datum.value == 360 ? '360 N' : datum.value == 180 ? '180 S' : datum.value == 0 ? '0    N' : datum.label",
                    "labelOverlap": false,
                    "grid": false, "labelColor": "black", "tickSize": 5, "labelPadding": 3,
                    "title": "°", "titleAngle": 0, "titleX": 3, "titleY": -18, "titleAlign": "left", "titleBaseline": "middle",
                    "titleColor": "black", "titleFontWeight": "normal", "titleFontSize": 11
                  }
                },
                "color": {
                  "datum": "Richtung", "type": "nominal",
                  "scale": {"domain": ["Windgeschw", "Richtung", "Windböen"], "range": ["#0000ff", "#000000", "#ff0000"]},
                  "legend": {
                    "orient": "none", "legendX": 9, "legendY": -16, "direction": "horizontal", "columns": 3,
                    "title": null, "symbolType": "square", "symbolSize": 100, "symbolStrokeColor": "black", "symbolStrokeWidth": 1,
                    "labelFont": "Liberation Sans", "labelFontSize": 11, "labelOffset": 3, "columnPadding": 16.5, "gridAlign": "all", "padding": 0,
                    "labelColor": {"expr": "datum.label == 'Richtung' ? '#000000' : '#0000ff'"}
                  }
                }
              }
            }
          ]
        }
      ],
      "resolve": {"scale": {"y": "independent"}}
    },
    {
      "layer": [
        {
          "data": {"values": [{"c": 1}, {"c": 4}, {"c": 7}, {"c": 10}]},
          "mark": {"type": "rule", "color": "#a0a0a0", "strokeWidth": 1.5},
          "encoding": {
            "x": {"field": "c", "type": "quantitative", "axis": null, "scale": {"domain": [0,1,2,3,4,5,6,7,8,9,10], "range": [-33,47,407,511,518,525,630,637,644,751,755], "zero": false, "nice": false}},
            "y": {"datum": -0.9, "type": "quantitative", "axis": null, "scale": {"domain": [0, 4], "range": [437, 500], "zero": false, "nice": false}},
            "y2": {"datum": 4.6}
          }
        },
        {
          "data": {"name": "tab"},
          "transform": [{"filter": "datum.c == 3 || datum.c == 6 || datum.c == 9"}],
          "mark": {
            "type": "text", "align": "right", "baseline": "middle", "color": "black",
            "fontSize": {"expr": "datum.r == 0 || datum.r == 4 ? 12 : 11"},
            "fontWeight": {"expr": "datum.r == 0 || datum.r == 4 ? 'bold' : 'normal'"}
          },
          "encoding": {
            "x": {"field": "c", "type": "quantitative", "axis": null, "scale": {"domain": [0,1,2,3,4,5,6,7,8,9,10], "range": [-33,47,407,511,518,525,630,637,644,751,755], "zero": false, "nice": false}},
            "y": {"field": "r", "type": "quantitative", "axis": null, "scale": {"domain": [0, 4], "range": [437, 500], "zero": false, "nice": false}},
            "text": {"field": "txt"}
          }
        },
        {
          "data": {"name": "tab"},
          "transform": [{"filter": "!(datum.c == 3 || datum.c == 6 || datum.c == 9)"}],
          "mark": {
            "type": "text", "align": "left", "baseline": "middle", "color": "black",
            "fontSize": {"expr": "datum.r == 0 || datum.c == 0 ? 12 : 11"},
            "fontWeight": {"expr": "datum.r == 0 || datum.c == 0 ? 'bold' : 'normal'"}
          },
          "encoding": {
            "x": {"field": "c", "type": "quantitative", "axis": null, "scale": {"domain": [0,1,2,3,4,5,6,7,8,9,10], "range": [-33,47,407,511,518,525,630,637,644,751,755], "zero": false, "nice": false}},
            "y": {"field": "r", "type": "quantitative", "axis": null, "scale": {"domain": [0, 4], "range": [437, 500], "zero": false, "nice": false}},
            "text": {"field": "txt"}
          }
        }
      ]
    }
  ],
  "resolve": {"scale": {"x": "independent", "y": "independent"}}
}
